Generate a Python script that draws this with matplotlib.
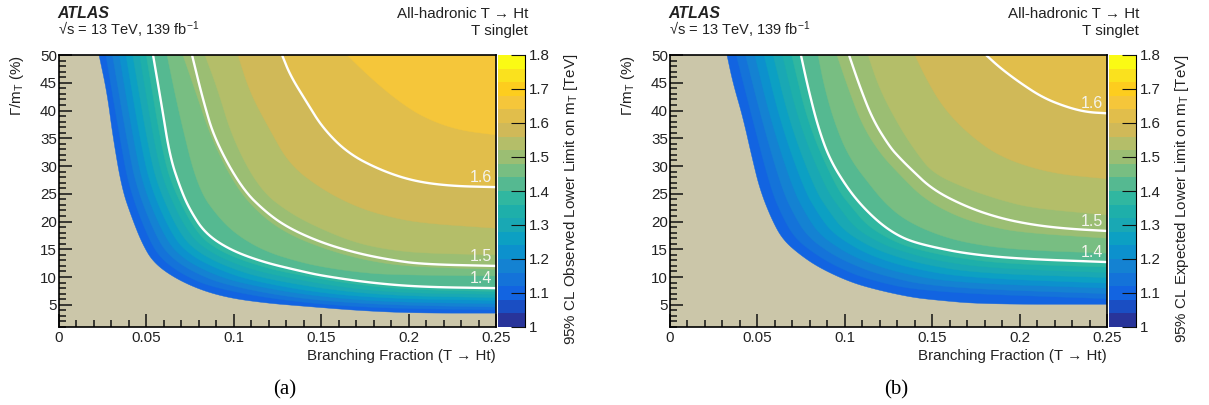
import numpy as np
import matplotlib
matplotlib.use("Agg")
import matplotlib.pyplot as plt

plt.rcParams['font.family'] = ['Liberation Sans', 'DejaVu Sans']
plt.rcParams['mathtext.fontset'] = 'custom'
plt.rcParams['mathtext.rm'] = 'Liberation Sans'
plt.rcParams['mathtext.it'] = 'Liberation Sans:italic'
plt.rcParams['mathtext.bf'] = 'Liberation Sans:bold'
plt.rcParams['mathtext.fallback'] = 'stixsans'

#--- colour scale ---#
band_edges = [1.00, 1.04, 1.08, 1.12, 1.16, 1.20, 1.24, 1.28, 1.32, 1.36, 1.40,
              1.44, 1.48, 1.52, 1.56, 1.60, 1.64, 1.68, 1.72, 1.76, 1.80]
band_colors = ['#28349a', '#1a4ec3', '#1264e1', '#1473d9', '#1482d2', '#0c91cd',
               '#0ca0c3', '#19a8b4', '#1eafaa', '#30b7a0', '#55b991', '#78be82',
               '#9bbe73', '#b4be69', '#d0b958', '#e1be4b', '#f5c63a', '#fdcd1e',
               '#fae11e', '#fafa14']
beige = '#cbc6a9'

#--- observed limit, contours: BF and width in % ---#
obs_bf_108 = [.0229, .0275, .0309, .0360, .0418, .0475, .0538, .0652, .0807, .0978, .119, .1379, .1739, .2054, .25]
obs_gw_108 = [50, 43.2, 35.2, 25.9, 20.6, 16.1, 12.7, 10.0, 7.7, 6.2, 5.3, 4.8, 3.9, 3.5, 3.5]
obs_bf_112 = [.0268, .0350, .0402, .0520, .0593, .0716, .0879, .1266, .1782, .25]
obs_gw_112 = [50, 34.8, 25.9, 16.3, 13.0, 10.3, 8.1, 5.8, 4.4, 4.1]
obs_bf_116 = [.0306, .0391, .0445, .0565, .0648, .0781, .0950, .1342, .1825, .25]
obs_gw_116 = [50, 34.3, 25.9, 16.6, 13.3, 10.7, 8.6, 6.2, 5.0, 4.6]
obs_bf_120 = [.0345, .0431, .0487, .0610, .0703, .0845, .1022, .1417, .1868, .25]
obs_gw_120 = [50, 33.9, 25.8, 16.8, 13.5, 11.0, 9.0, 6.7, 5.5, 5.2]
obs_bf_124 = [.0383, .0472, .0529, .0655, .0758, .0910, .1093, .1493, .1911, .25]
obs_gw_124 = [50, 33.4, 25.8, 17.0, 13.8, 11.4, 9.4, 7.1, 6.1, 5.8]
obs_bf_128 = [.0422, .0513, .0571, .0700, .0813, .0974, .1165, .1569, .1953, .25]
obs_gw_128 = [50, 33.0, 25.8, 17.2, 14.1, 11.7, 9.8, 7.6, 6.6, 6.3]
obs_bf_132 = [.0461, .0554, .0614, .0745, .0868, .1038, .1236, .1645, .1996, .25]
obs_gw_132 = [50, 32.5, 25.8, 17.5, 14.4, 12.0, 10.3, 8.0, 7.1, 6.9]
obs_bf_136 = [.0499, .0594, .0656, .0790, .0923, .1103, .1308, .1720, .2039, .25]
obs_gw_136 = [50, 32.1, 25.7, 17.7, 14.6, 12.4, 10.7, 8.5, 7.7, 7.4]
obs_bf_140 = [.0538, .0589, .0635, .0698, .0749, .0835, .0978, .1167, .1379, .151, .1796, .2082, .25]
obs_gw_140 = [50, 40.6, 31.6, 25.7, 22.1, 17.9, 14.9, 12.7, 11.1, 10.2, 8.9, 8.2, 8.0]
obs_bf_144 = [.0618, .0692, .0795, .0921, .1035, .119, .1379, .151, .1705, .1893, .25]
obs_gw_144 = [50, 38.8, 25.9, 20.4, 17.2, 14.5, 12.7, 11.8, 10.9, 10.4, 10.2]
obs_bf_148 = [.0709, .0784, .0875, .1018, .1167, .1321, .151, .1705, .1893, .2082, .25]
obs_gw_148 = [50, 43.2, 34.7, 25.9, 20.8, 17.6, 15.2, 13.4, 12.3, 11.8, 11.4]
obs_bf_150 = [.0761, .0824, .0892, .1047, .119, .1321, .151, .1705, .1893, .2082, .25]
obs_gw_150 = [50, 41.9, 34.7, 25.9, 21.5, 18.7, 16.1, 14.3, 13.1, 12.3, 12.0]
obs_bf_152 = [.0835, .0904, .0996, .1150, .1321, .151, .1705, .1893, .2082, .25]
obs_gw_152 = [50, 44.2, 34.7, 25.7, 21.5, 18.5, 16.1, 14.9, 14.3, 14.0]
obs_bf_156 = [.1024, .1093, .1207, .1321, .151, .1705, .1893, .2082, .25]
obs_gw_156 = [50, 43.2, 36.5, 30.2, 25.7, 22.6, 20.8, 19.7, 18.8]
obs_bf_160 = [.1276, .1325, .1419, .151, .1653, .1836, .2025, .2237, .25]
obs_gw_160 = [50, 46.2, 41.4, 36.8, 32.3, 29.3, 27.3, 26.4, 26.2]
obs_bf_164 = [.1648, .1779, .1933, .2082, .2277, .25]
obs_gw_164 = [50, 46, 41.9, 38.8, 36.5, 35.6]

#--- expected limit, contours ---#
exp_bf_108 = [.0326, .0360, .0417, .0469, .0515, .0583, .0646, .0744, .0858, .1030, .1184, .1373, .1504, .1790, .25]
exp_gw_108 = [50, 45.0, 38.8, 31.6, 25.7, 20.3, 16.7, 14.0, 11.6, 9.1, 7.7, 6.4, 5.9, 5.1, 5.1]
exp_bf_112 = [.0379, .0471, .0578, .0648, .0715, .0823, .0939, .1114, .1450, .25]
exp_gw_112 = [50, 38.6, 25.7, 20.6, 17.0, 14.3, 12.1, 9.7, 7.3, 6.1]
exp_bf_116 = [.0432, .0525, .0641, .0713, .0785, .0901, .1020, .1197, .1526, .25]
exp_gw_116 = [50, 38.4, 25.8, 21.0, 17.4, 14.6, 12.6, 10.4, 8.1, 7.0]
exp_bf_120 = [.0485, .0578, .0704, .0778, .0854, .0980, .1100, .1281, .1603, .25]
exp_gw_120 = [50, 38.1, 25.8, 21.3, 17.7, 14.9, 13.0, 11.0, 9.0, 8.0]
exp_bf_124 = [.0538, .0632, .0767, .0844, .0924, .1059, .1181, .1365, .1679, .25]
exp_gw_124 = [50, 37.9, 25.8, 21.6, 18.1, 15.3, 13.5, 11.7, 9.9, 8.9]
exp_bf_128 = [.0590, .0686, .0829, .0909, .0993, .1137, .1262, .1448, .1756, .25]
exp_gw_128 = [50, 37.7, 25.8, 21.9, 18.4, 15.6, 14.0, 12.3, 10.7, 9.9]
exp_bf_132 = [.0643, .0740, .0892, .0974, .1062, .1216, .1343, .1532, .1832, .25]
exp_gw_132 = [50, 37.5, 25.9, 22.3, 18.7, 15.9, 14.5, 12.9, 11.6, 10.8]
exp_bf_136 = [.0696, .0793, .0955, .1039, .1132, .1294, .1423, .1615, .1909, .25]
exp_gw_136 = [50, 37.2, 25.9, 22.6, 19.1, 16.2, 14.9, 13.6, 12.4, 11.8]
exp_bf_140 = [.0749, .0789, .0847, .0915, .1018, .1104, .1201, .1287, .1373, .1504, .1699, .1985, .25]
exp_gw_140 = [50, 44.2, 37.0, 31.1, 25.9, 22.6, 19.7, 17.8, 16.5, 15.4, 14.2, 13.3, 12.7]
exp_bf_144 = [.0847, .0885, .0945, .1025, .1161, .1240, .1345, .1504, .1699, .1985, .25]
exp_gw_144 = [50, 44.0, 37.5, 31.5, 25.9, 23.0, 20.3, 17.9, 16.1, 14.9, 14.3]
exp_bf_148 = [.0955, .1018, .1098, .1201, .1316, .1453, .1642, .1830, .2019, .25]
exp_gw_148 = [50, 44.2, 37.5, 32.3, 28.4, 24.1, 20.9, 19.1, 18.0, 17.0]
exp_bf_150 = [.1024, .1087, .1161, .1258, .1316, .1373, .1504, .1699, .1888, .2076, .2271, .25]
exp_gw_150 = [50, 44.2, 38.3, 33.4, 31.4, 29.6, 25.7, 22.6, 20.6, 19.4, 18.7, 18.3]
exp_bf_152 = [.1133, .1201, .1316, .1413, .1504, .1699, .1888, .2076, .25]
exp_gw_152 = [50, 43.7, 36.9, 32.3, 28.7, 25.9, 23.9, 22.4, 21.2]
exp_bf_156 = [.1401, .1470, .1562, .1699, .1888, .2174, .25]
exp_gw_156 = [50, 45.5, 40.6, 36.0, 31.6, 28.7, 27.7]
exp_bf_160 = [.1808, .1888, .2002, .2134, .2271, .2385, .25]
exp_gw_160 = [50, 47.7, 45.0, 42.3, 40.6, 39.7, 39.5]

#--- which contours get filled (lowest first) and which get a white line ---#
obs_fill = [(1.08, obs_bf_108, obs_gw_108), (1.12, obs_bf_112, obs_gw_112), (1.16, obs_bf_116, obs_gw_116),
            (1.20, obs_bf_120, obs_gw_120), (1.24, obs_bf_124, obs_gw_124), (1.28, obs_bf_128, obs_gw_128),
            (1.32, obs_bf_132, obs_gw_132), (1.36, obs_bf_136, obs_gw_136), (1.40, obs_bf_140, obs_gw_140),
            (1.44, obs_bf_144, obs_gw_144), (1.48, obs_bf_148, obs_gw_148), (1.52, obs_bf_152, obs_gw_152),
            (1.56, obs_bf_156, obs_gw_156), (1.60, obs_bf_160, obs_gw_160), (1.64, obs_bf_164, obs_gw_164)]
exp_fill = [(1.08, exp_bf_108, exp_gw_108), (1.12, exp_bf_112, exp_gw_112), (1.16, exp_bf_116, exp_gw_116),
            (1.20, exp_bf_120, exp_gw_120), (1.24, exp_bf_124, exp_gw_124), (1.28, exp_bf_128, exp_gw_128),
            (1.32, exp_bf_132, exp_gw_132), (1.36, exp_bf_136, exp_gw_136), (1.40, exp_bf_140, exp_gw_140),
            (1.44, exp_bf_144, exp_gw_144), (1.48, exp_bf_148, exp_gw_148), (1.52, exp_bf_152, exp_gw_152),
            (1.56, exp_bf_156, exp_gw_156), (1.60, exp_bf_160, exp_gw_160)]
obs_white = [('1.4', obs_bf_140, obs_gw_140), ('1.5', obs_bf_150, obs_gw_150), ('1.6', obs_bf_160, obs_gw_160)]
exp_white = [('1.4', exp_bf_140, exp_gw_140), ('1.5', exp_bf_150, exp_gw_150), ('1.6', exp_bf_160, exp_gw_160)]

W, H = 1209.0, 405.0
FS = 10.9

def box(x0, y0, x1, y1):
    return [x0/W, 1-y1/H, (x1-x0)/W, (y1-y0)/H]

#--- corner cutting so the read-off polylines look like smooth contours ---#
def smooth(xs, ys, n=3):
    pts = np.column_stack([xs, ys])
    for _ in range(n):
        q = 0.75*pts[:-1] + 0.25*pts[1:]
        r = 0.25*pts[:-1] + 0.75*pts[1:]
        mid = np.empty((2*len(q), 2))
        mid[0::2] = q
        mid[1::2] = r
        pts = np.vstack([pts[0], mid, pts[-1]])
    return pts[:, 0], pts[:, 1]

def drawPanel(x_off, fill, white, zlabel, tag):
    fig = plt.gcf()
    ax = fig.add_axes(box(59+x_off, 55, 496+x_off, 327))
    ax.set_facecolor(beige)
    for level, bf, gw in fill:
        col = band_colors[int(round((level-1.0)/0.04))]
        sx, sy = smooth(bf, gw)
        # contour runs top edge -> right edge, region above it is >= level
        ax.fill(np.append(sx, sx[-1]), np.append(sy, 50), color=col, lw=0.3, zorder=1)
    for name, bf, gw in white:
        sx, sy = smooth(bf, gw)
        ax.plot(sx, sy, color='white', lw=1.7, zorder=2, solid_capstyle='butt')
        ax.text(0.2475, gw[-1]+0.4, name, color='#f4f4ee', fontsize=11.5, ha='right', va='bottom', zorder=3)
    ax.set_xlim(0, 0.25)
    ax.set_ylim(1, 50)
    ax.set_xticks([0, 0.05, 0.1, 0.15, 0.2, 0.25])
    ax.set_xticklabels(['0', '0.05', '0.1', '0.15', '0.2', '0.25'])
    ax.set_xticks(np.arange(0, 0.2501, 0.01), minor=True)
    ax.set_yticks(np.arange(5, 51, 5))
    ax.set_yticks(np.arange(1, 51, 1), minor=True)
    ax.tick_params(axis='both', which='major', direction='in', length=9.5, width=1.1, labelsize=FS, color='#111111', labelcolor='#222222')
    ax.tick_params(axis='both', which='minor', direction='in', length=5, width=1.1, color='#111111')
    ax.tick_params(axis='x', pad=3)
    ax.tick_params(axis='y', pad=1.5)
    for s in ax.spines.values():
        s.set_linewidth(1.2)

    cax = fig.add_axes(box(498+x_off, 55, 525+x_off, 327))
    for i in range(len(band_colors)):
        cax.bar(0.5, band_edges[i+1]-band_edges[i], 1.0, bottom=band_edges[i], color=band_colors[i], lw=0)
    cax.set_xlim(0, 1)
    cax.set_ylim(1.0, 1.8)
    cax.set_xticks([])
    cax.yaxis.tick_right()
    cax.set_yticks([1.0, 1.1, 1.2, 1.3, 1.4, 1.5, 1.6, 1.7, 1.8])
    cax.set_yticklabels(['1', '1.1', '1.2', '1.3', '1.4', '1.5', '1.6', '1.7', '1.8'])
    cax.tick_params(axis='y', direction='in', length=10, width=0.8, labelsize=FS, pad=3, color='#111111', labelcolor='#222222')
    for s in ['left', 'top', 'bottom']:
        cax.spines[s].set_visible(False)
    cax.spines['right'].set_linewidth(0.8)

    tc = '#222222'
    fig.text((57+x_off)/W, 1-18/H, 'ATLAS', fontsize=11.4, fontweight='bold', fontstyle='italic', color=tc, va='baseline')
    fig.text((58+x_off)/W, 1-35/H, '\u221as = 13 TeV, 139 fb$^{-1}$', fontsize=10.5, color=tc, va='baseline')
    fig.text((528+x_off)/W, 1-18/H, 'All-hadronic T \u2192 Ht', fontsize=FS, color=tc, ha='right', va='baseline')
    fig.text((528+x_off)/W, 1-35/H, 'T singlet', fontsize=FS, color=tc, ha='right', va='baseline')
    fig.text((496+x_off)/W, 1-360/H, 'Branching Fraction (T \u2192 Ht)', fontsize=FS, color=tc, ha='right', va='baseline')
    fig.text((17+x_off)/W, 1-55/H, r'$\Gamma$/m$_{\mathrm{T}}$ (%)', fontsize=FS, color=tc, rotation=90, ha='center', va='top')
    fig.text((571+x_off)/W, 1-199/H, zlabel, fontsize=FS, color=tc, rotation=90, ha='center', va='center')
    fig.text((285+x_off)/W, 1-394/H, tag, fontsize=15, family='Liberation Serif', color='black', ha='center', va='baseline')

fig = plt.figure(figsize=(W/100, H/100), dpi=100)
drawPanel(0, obs_fill, obs_white, r'95% CL Observed Lower Limit on m$_{\mathrm{T}}$ [TeV]', '(a)')
drawPanel(611, exp_fill, exp_white, r'95% CL Expected Lower Limit on m$_{\mathrm{T}}$ [TeV]', '(b)')
fig.savefig('out.png', dpi=100)
